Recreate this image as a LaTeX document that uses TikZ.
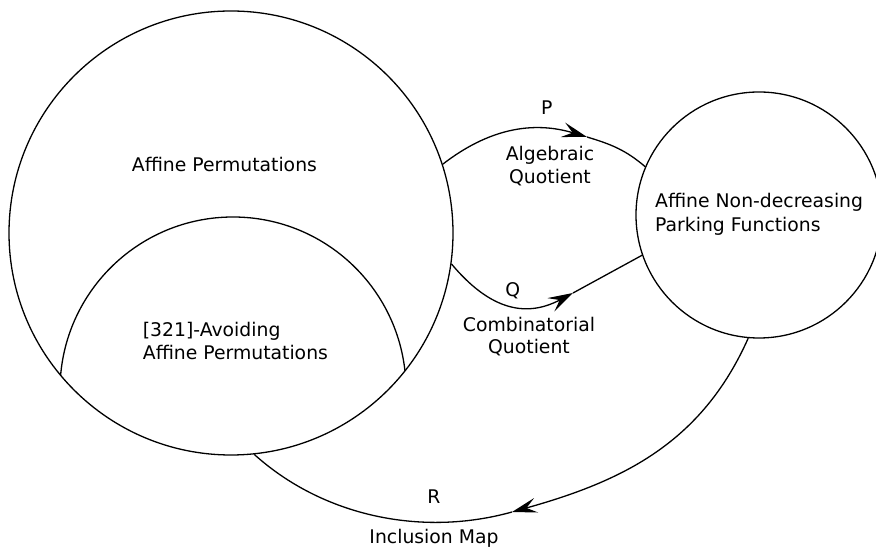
\documentclass[tikz,border=0pt]{standalone}
\usepackage{fontspec}
\setmainfont{DejaVu Sans}
\usetikzlibrary{arrows.meta}
\begin{document}
\begin{tikzpicture}[x=1pt,y=1pt,
  lbl/.style={font=\fontsize{18.8}{23.5}\selectfont, inner sep=0pt},
  conn/.style={line width=1.3pt},
  tipped/.style={conn, -{Stealth[length=25pt,width=15pt,inset=10pt]}},
  setc/.style={draw, circle, conn, inner sep=0pt}
]
\useasboundingbox (0,0) rectangle (876,548);
\begin{scope}
\clip (0,0) rectangle (876,548);
\node[setc, minimum size=444pt] (big) at (231,315) {};
\begin{scope}
\clip (231,315) circle (222pt);
\node[setc, minimum size=346pt] (inner) at (233,158) {};
\end{scope}
\node[setc, minimum size=246pt] (small) at (759,333) {};

\coordinate (ptip) at (587,411);
\draw[tipped] (big.18.3) to[out=37.7,in=163.3] (ptip);
\draw[conn] (ptip) to[out=-16.7,in=139.6] (small.157.6);

\coordinate (qtip) at (573,255);
\draw[tipped] (big.-8.8) to[out=-50,in=208,looseness=1.15] (qtip);
\draw[conn] (qtip) -- (small.199.9);

\coordinate (rtip) at (512,36);
\draw[tipped] (small.265.8) to[out=246,in=15.6] (rtip);
\draw[conn] (rtip) to[out=195.6,in=318,looseness=0.9] (big.276.7);

\node[lbl, anchor=base west] (tap) at (131.7,376.7) {Affine Permutations};
\node[lbl, anchor=base west, align=left] (tav) at (142.7,188) {[321]-Avoiding\\Affine Permutations};
\node[lbl, anchor=base west, align=left] (tpf) at (655,316.3) {Affine Non-decreasing\\[0.8pt]Parking Functions};
\node[lbl, anchor=base] (lp) at (546.7,433.7) {P};
\node[lbl, anchor=base, align=center] (lalg) at (550,364) {Algebraic\\[-0.5pt]Quotient};
\node[lbl, anchor=base] (lq) at (512.7,251.3) {Q};
\node[lbl, anchor=base, align=center] (lcomb) at (529,194) {Combinatorial\\[-1.5pt]Quotient};
\node[lbl, anchor=base] (lr) at (434,44.7) {R};
\node[lbl, anchor=base] (lincl) at (434,4.7) {Inclusion Map};
\end{scope}
\end{tikzpicture}
\end{document}
